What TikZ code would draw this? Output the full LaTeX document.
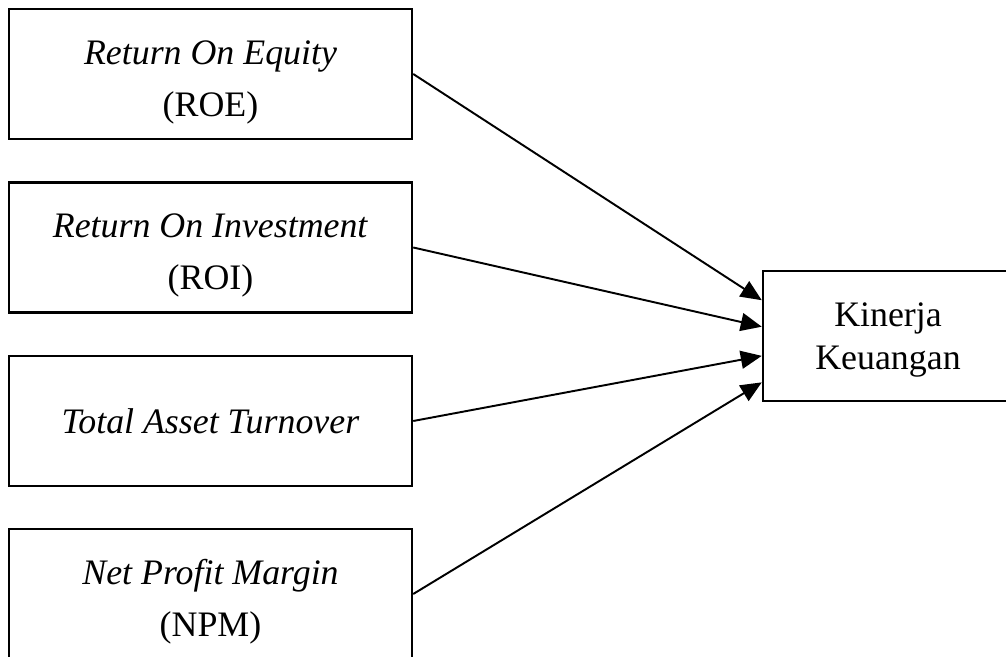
\documentclass[tikz,border=0pt]{standalone}
\usepackage{fontspec}
\setmainfont{Liberation Serif}
\usepackage{tikz}
\usetikzlibrary{arrows.meta,calc}

\begin{document}
\begin{tikzpicture}[>={Triangle[length=4.2mm,width=3.6mm]},
  font=\fontsize{20.4}{24.5}\selectfont,
  ratio/.style={draw,line width=1.4pt,minimum width=8.06cm,minimum height=2.6cm,align=center,inner sep=0pt},
  duabaris/.style={text height=52.5pt},
  hasil/.style={draw,line width=1.4pt,minimum width=5cm,minimum height=2.6cm,align=center,inner sep=0pt,text height=43pt},
  panah/.style={->,line width=1.1pt}]
\useasboundingbox (0,0) rectangle (20.12,13.14);
% variabel bebas
\node[ratio,duabaris] (roe) at (4.21,11.66) {\textit{Return On Equity}\\[5pt](ROE)};
\node[ratio,duabaris] (roi) at (4.21,8.19) {\textit{Return On Investment}\\[5pt](ROI)};
\node[ratio] (tato) at (4.21,4.72) {\textit{Total Asset Turnover}};
\node[ratio,duabaris] (npm) at (4.21,1.26) {\textit{Net Profit Margin}\\[5pt](NPM)};
% variabel terikat
\node[hasil] (kinerja) at (17.76,6.42) {Kinerja\\Keuangan};
\coordinate (k1) at ($(kinerja.north west)!0.23!(kinerja.south west)$);
\coordinate (k2) at ($(kinerja.north west)!0.43!(kinerja.south west)$);
\coordinate (k3) at ($(kinerja.north west)!0.65!(kinerja.south west)$);
\coordinate (k4) at ($(kinerja.north west)!0.85!(kinerja.south west)$);
\draw[panah] (roe.east) -- (k1);
\draw[panah] (roi.east) -- (k2);
\draw[panah] (tato.east) -- (k3);
\draw[panah] (npm.east) -- (k4);
\end{tikzpicture}
\end{document}
